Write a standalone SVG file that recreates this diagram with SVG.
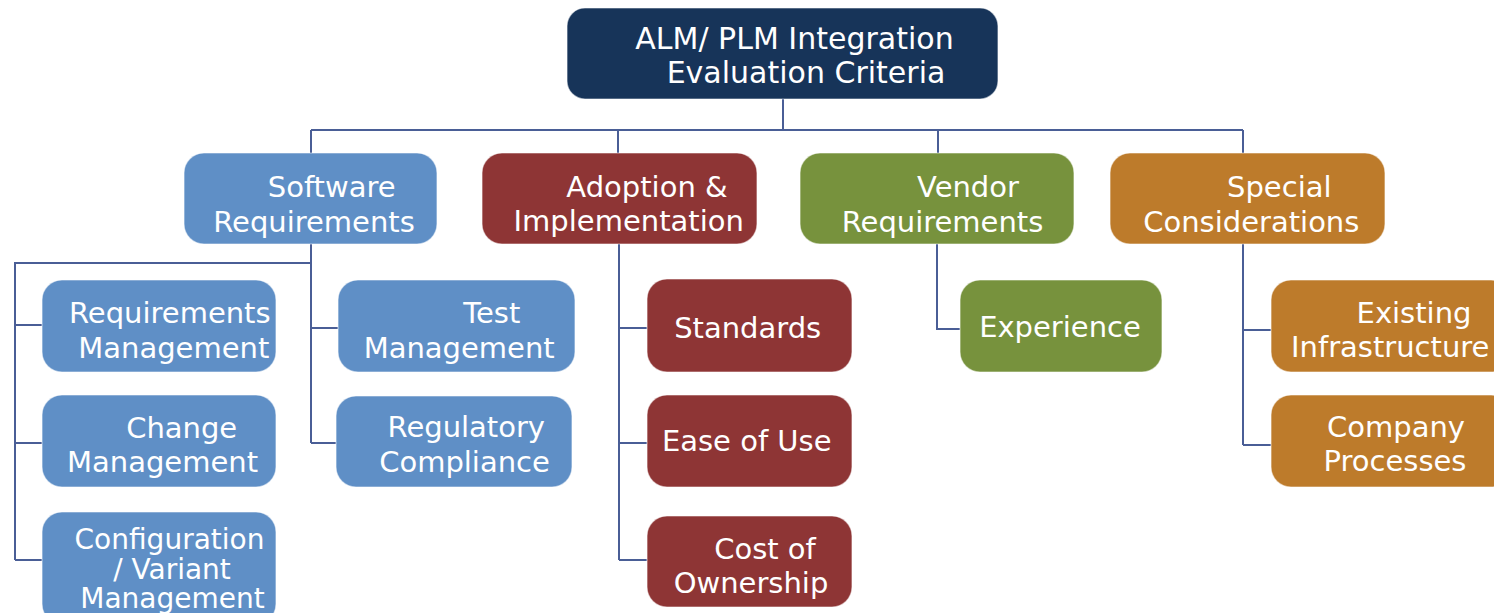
<svg xmlns="http://www.w3.org/2000/svg" width="1494" height="613" viewBox="0 0 1494 613">
<style>
.box{stroke:#ffffff;stroke-opacity:0.55;stroke-width:1.2}
.navy{fill:#173459}
.blue{fill:#5f8fc6}
.red{fill:#8e3535}
.green{fill:#77923d}
.orange{fill:#bd7b2b}
.t{font-family:"DejaVu Sans","Liberation Sans",sans-serif;font-size:29px;fill:#ffffff;text-anchor:middle}
.big{font-size:30px}
.tight{font-size:28px}
.ts{text-anchor:start}
.edge{fill:none;stroke:#4a5e96;stroke-width:2}
</style>
<rect width="1494" height="613" fill="#ffffff"/>
<g id="connectors">
<path class="edge" d="M783,99 V130 M311,130 H1243 M311,130 V153 M618,130 V153 M938,130 V153 M1243,130 V153"/>
<path class="edge" d="M311,244 V443 M311,263 H15 V560 M15,325 H43 M15,443 H43 M15,560 H43 M311,328 H339 M311,443 H337"/>
<path class="edge" d="M619,244 V560 M619,328 H647 M619,443 H647 M619,560 H647"/>
<path class="edge" d="M937,244 V329 H960"/>
<path class="edge" d="M1243,244 V445 M1243,330 H1271 M1243,445 H1271"/>
</g>
<g id="root">
<rect class="box navy" x="567" y="8" width="431" height="91" rx="18"/>
<text class="t big" x="794.5" y="49">ALM/ PLM Integration</text>
<text class="t big" x="806" y="83">Evaluation Criteria</text>
</g>
<g id="software">
<rect class="box blue" x="184" y="153" width="253" height="91" rx="20"/>
<text class="t" x="331.7" y="197">Software</text>
<text class="t" x="314" y="232">Requirements</text>
</g>
<g id="adoption">
<rect class="box red" x="482" y="153" width="275" height="91" rx="20"/>
<text class="t" x="647" y="197">Adoption &amp;</text>
<text class="t" x="628.7" y="231">Implementation</text>
</g>
<g id="vendor">
<rect class="box green" x="800" y="153" width="274" height="91" rx="20"/>
<text class="t" x="968" y="197">Vendor</text>
<text class="t" x="942.5" y="232">Requirements</text>
</g>
<g id="special">
<rect class="box orange" x="1110" y="153" width="275" height="91" rx="20"/>
<text class="t" x="1279.3" y="197">Special</text>
<text class="t" x="1251.3" y="232">Considerations</text>
</g>
<g id="reqmgmt">
<rect class="box blue" x="42" y="280" width="234" height="92" rx="20"/>
<text class="t" x="169.8" y="323">Requirements</text>
<text class="t" x="173.8" y="358">Management</text>
</g>
<g id="changemgmt">
<rect class="box blue" x="42" y="395" width="234" height="92" rx="20"/>
<text class="t" x="181.7" y="437.5">Change</text>
<text class="t" x="162.5" y="472">Management</text>
</g>
<g id="configmgmt">
<rect class="box blue" x="42" y="512" width="234" height="112" rx="20"/>
<text class="t tight" x="169.5" y="549">Configuration</text>
<text class="t tight" x="172" y="578.5">/ Variant</text>
<text class="t tight" x="172.5" y="608">Management</text>
</g>
<g id="testmgmt">
<rect class="box blue" x="338" y="280" width="237" height="92" rx="20"/>
<text class="t" x="491.7" y="323">Test</text>
<text class="t" x="459.2" y="357.5">Management</text>
</g>
<g id="regulatory">
<rect class="box blue" x="336" y="396" width="236" height="91" rx="20"/>
<text class="t" x="466.3" y="437">Regulatory</text>
<text class="t" x="464.5" y="472">Compliance</text>
</g>
<g id="standards">
<rect class="box red" x="647" y="279" width="205" height="93" rx="20"/>
<text class="t" x="747.7" y="338">Standards</text>
</g>
<g id="easeofuse">
<rect class="box red" x="647" y="395" width="205" height="92" rx="20"/>
<text class="t" x="746.7" y="451">Ease of Use</text>
</g>
<g id="cost">
<rect class="box red" x="647" y="516" width="205" height="91" rx="20"/>
<text class="t" x="765" y="558.5">Cost of</text>
<text class="t" x="751" y="593">Ownership</text>
</g>
<g id="experience">
<rect class="box green" x="960" y="280" width="202" height="92" rx="20"/>
<text class="t" x="1060" y="337">Experience</text>
</g>
<g id="existing">
<rect class="box orange" x="1271" y="280" width="240" height="92" rx="20"/>
<text class="t" x="1414" y="322.5">Existing</text>
<text class="t ts" x="1291" y="357">Infrastructure</text>
</g>
<g id="company">
<rect class="box orange" x="1271" y="395" width="240" height="92" rx="20"/>
<text class="t" x="1396" y="437">Company</text>
<text class="t" x="1395" y="471">Processes</text>
</g>
</svg>
